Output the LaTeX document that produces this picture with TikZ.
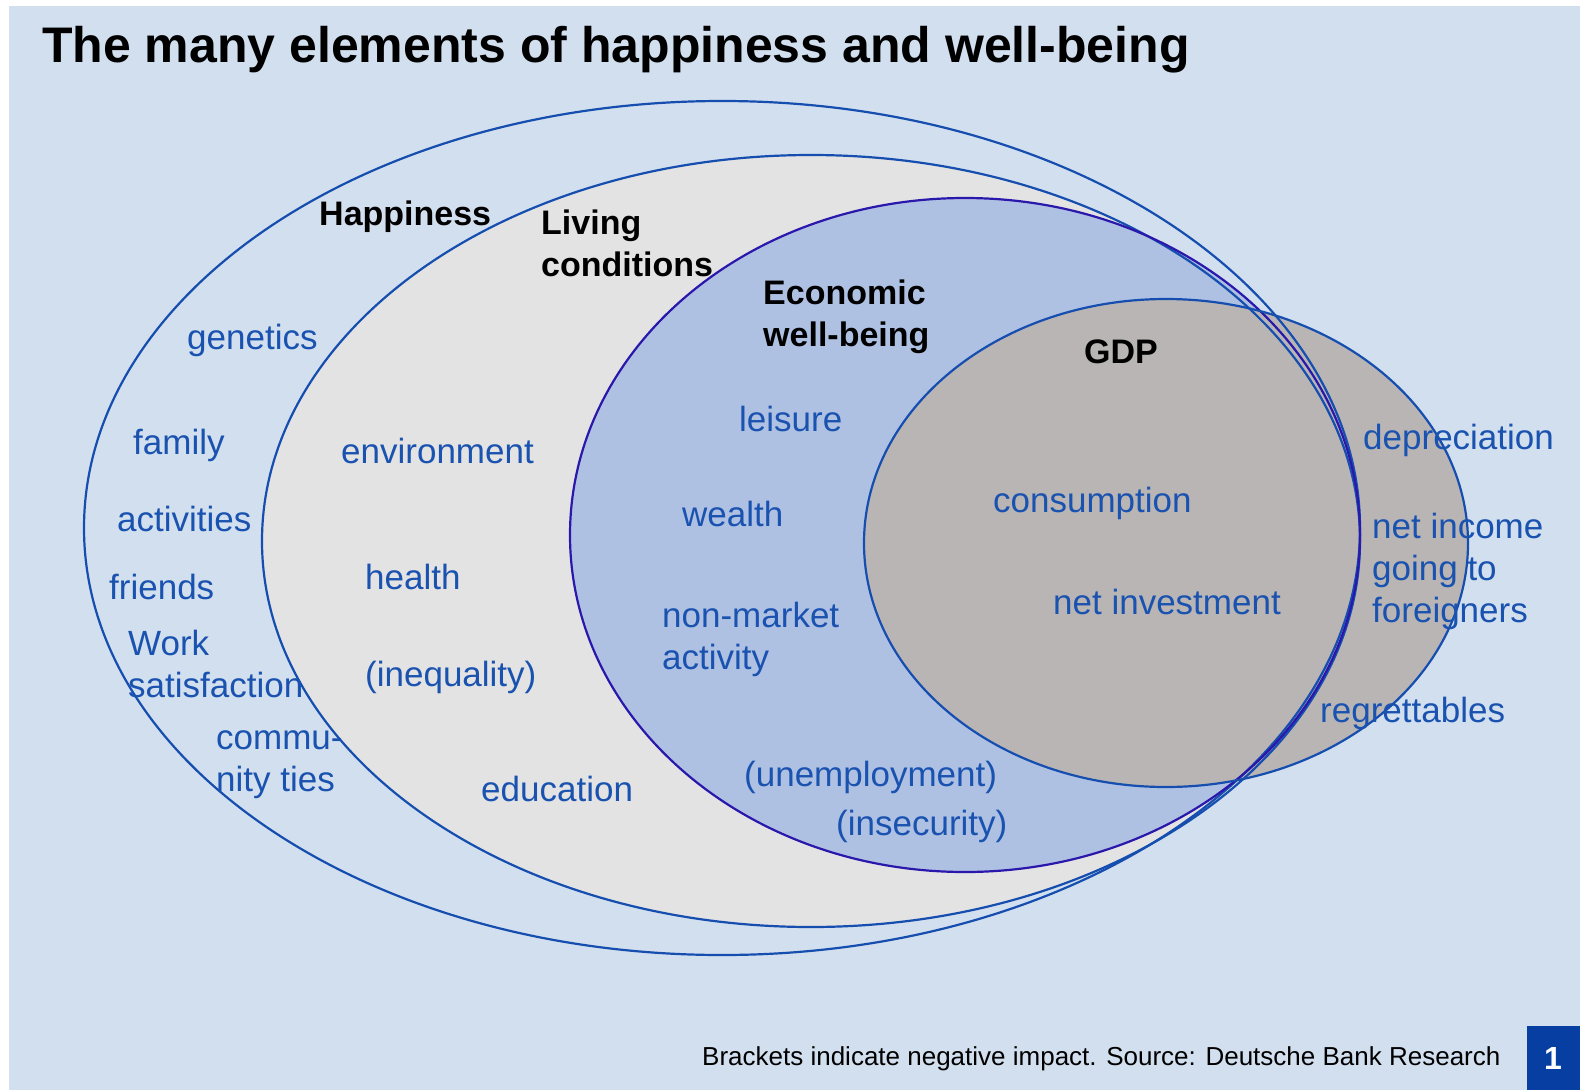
\documentclass[tikz,border=0pt]{standalone}
\usepackage{fontspec}
\setmainfont{Liberation Sans}
\usetikzlibrary{shapes}

\definecolor{paleblue}{RGB}{210,223,238}
\definecolor{livinggrey}{RGB}{227,227,227}
\definecolor{econblue}{RGB}{175,193,227}
\definecolor{gdpgrey}{RGB}{185,181,181}
\definecolor{rimblue}{RGB}{22,78,176}
\definecolor{econrim}{RGB}{42,24,172}
\definecolor{itemblue}{RGB}{26,82,176}
\definecolor{boxblue}{RGB}{6,62,162}

\begin{document}
\begin{tikzpicture}[x=1pt,y=-1pt]
    \tikzstyle{every node}=[inner sep=0pt,anchor=west]
    \tikzstyle{item}=[text=itemblue,font=\fontsize{35}{42}\selectfont,align=left]
    \tikzstyle{heading}=[text=black,font=\fontsize{34}{42}\selectfont\bfseries,align=left]
    \tikzstyle{rim}=[draw=rimblue,line width=2.2pt]
    \useasboundingbox (0,0) rectangle (1580,1090);
    \fill[white] (0,0) rectangle (1580,1090);
    \fill[paleblue] (9,6) rectangle (1580,1090);
    % areas
    \fill[livinggrey] (811,541) ellipse [x radius=549,y radius=386];
    \fill[econblue] (965,535) ellipse [x radius=395,y radius=337];
    \fill[gdpgrey] (1166,543) ellipse [x radius=302,y radius=244];
    % rims
    \draw[rim] (722,528) ellipse [x radius=638,y radius=427];
    \draw[rim] (811,541) ellipse [x radius=549,y radius=386];
    \draw[rim,draw=econrim] (965,535) ellipse [x radius=395,y radius=337];
    \draw[rim] (1166,543) ellipse [x radius=302,y radius=244];
    % title and headings
    \node[font=\fontsize{50}{56}\selectfont\bfseries] (title) at (42,50) {The many elements of happiness and well-being};
    \node[heading] (happiness) at (319,217) {Happiness};
    \node[heading] (living) at (541,243) {Living\\conditions};
    \node[heading] (economic) at (763,317) {Economic\\well-being};
    \node[heading,anchor=center] (gdp) at (1121,352) {GDP};
    % happiness
    \node[item] (genetics) at (187,340) {genetics};
    \node[item] (family) at (133,445) {family};
    \node[item] (activities) at (117,519) {activities};
    \node[item] (friends) at (109,587) {friends};
    \node[item] (work) at (128,664) {Work\\satisfaction};
    \node[item] (community) at (216,765) {commu-\\nity ties};
    % living conditions
    \node[item] (environment) at (341,451) {environment};
    \node[item] (health) at (365,577) {health};
    \node[item] (inequality) at (365,677) {(inequality)};
    \node[item] (education) at (481,789) {education};
    % economic well-being
    \node[item] (leisure) at (739,419) {leisure};
    \node[item] (wealth) at (682,514) {wealth};
    \node[item] (nonmarket) at (662,639) {non-market\\activity};
    \node[item] (unemployment) at (744,777) {(unemployment)};
    \node[item] (insecurity) at (836,826) {(insecurity)};
    % gdp
    \node[item] (consumption) at (993,503) {consumption};
    \node[item] (investment) at (1053,602) {net investment};
    \node[item] (depreciation) at (1363,440) {depreciation};
    \node[item] (netincome) at (1372,571) {net income\\going to\\foreigners};
    \node[item] (regrettables) at (1320,713) {regrettables};
    % footer
    \node[font=\fontsize{26}{30}\selectfont] (source) at (702,1059) {Brackets indicate negative impact. Source: Deutsche Bank Research};
    \fill[boxblue] (1527,1026) rectangle (1580,1090);
    \node[anchor=center,text=white,font=\fontsize{32}{36}\selectfont\bfseries] (chartno) at (1553,1058) {1};
\end{tikzpicture}
\end{document}
